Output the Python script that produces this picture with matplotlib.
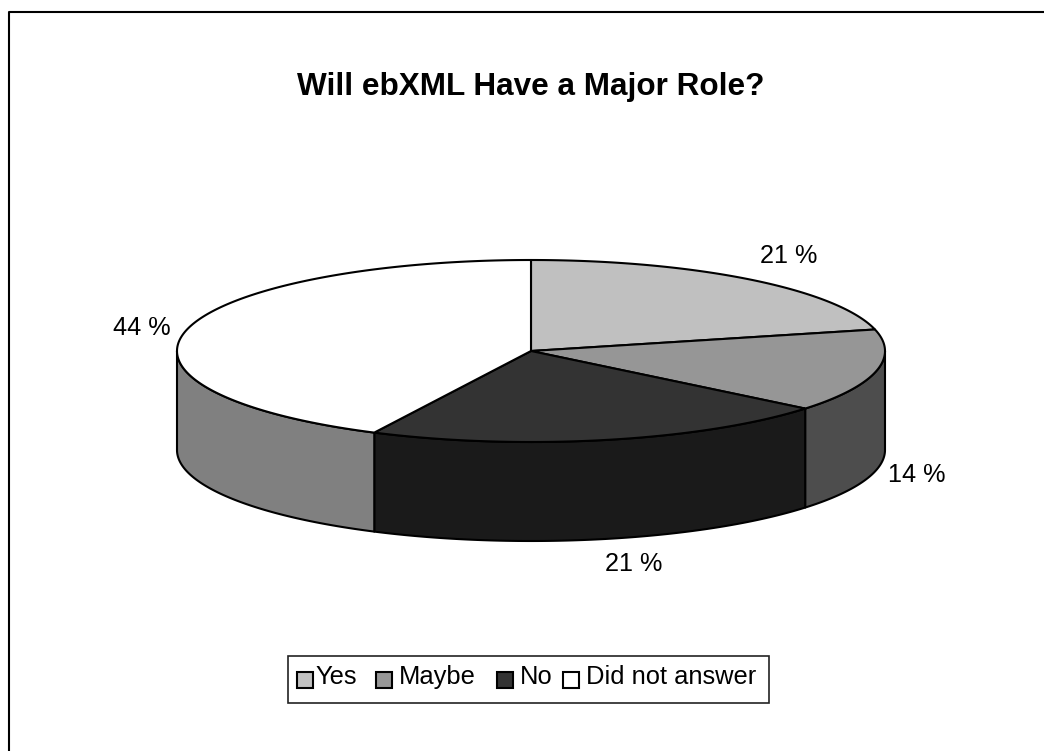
import numpy as np

import matplotlib
matplotlib.use('Agg')
import matplotlib.pyplot as plt
from matplotlib.patches import Polygon, Rectangle

plt.rcParams['font.family'] = ['Liberation Sans', 'DejaVu Sans']

categories = ['Yes', 'Maybe', 'No', 'Did not answer']
# slice sizes as measured on the drawn pie, the printed labels round differently
shares = [21.2, 14.7, 21.4, 42.7]
pct_labels = ['21 %', '14 %', '21 %', '44 %']
top_colors = ['#C0C0C0', '#969696', '#333333', '#FFFFFF']
side_colors = ['#606060', '#4D4D4D', '#1A1A1A', '#808080']
label_pos = [(789, 256), (917, 475), (634, 564), (142, 328)]

cx, cy = 531, 351
rx, ry = 354, 91
depth = 99


def rim(t):
    return cx + rx * np.sin(t), cy - ry * np.cos(t)


fig = plt.figure(figsize=(10.44, 7.51), dpi=100)
ax = fig.add_axes([0, 0, 1, 1])
ax.set_xlim(0, 1044)
ax.set_ylim(751, 0)
ax.axis('off')

# the chart frame runs off the right and bottom of the picture
ax.plot([8.5, 8.5, 1044], [751, 12, 12], color='black', lw=1.5)

edges = np.radians(np.cumsum([0] + shares) / sum(shares) * 360)

# side walls first, only the front half of the rim shows
for i in range(len(shares)):
    lo = max(edges[i], np.pi / 2)
    hi = min(edges[i + 1], 3 * np.pi / 2)
    if lo >= hi:
        continue
    t = np.linspace(lo, hi, 150)
    x, y = rim(t)
    pts = np.r_[np.c_[x, y], np.c_[x[::-1], y[::-1] + depth]]
    ax.add_patch(Polygon(pts, closed=True, fc=side_colors[i], ec='black', lw=1.5, joinstyle='round', zorder=2))

# top of the pie
for i in range(len(shares)):
    t = np.linspace(edges[i], edges[i + 1], 200)
    x, y = rim(t)
    pts = np.r_[[[cx, cy]], np.c_[x, y]]
    ax.add_patch(Polygon(pts, closed=True, fc=top_colors[i], ec='black', lw=1.5, joinstyle='round', zorder=3))

ax.text(531, 87, 'Will ebXML Have a Major Role?', ha='center', va='center', fontsize=22.7, fontweight='bold')

for lab, (px, py) in zip(pct_labels, label_pos):
    ax.text(px, py, lab, ha='center', va='center', fontsize=18.2)

# legend drawn by hand to hold the uneven spacing of the original
swatch_x = [297, 376, 497, 563]
text_x = [316, 399, 520, 586]
ax.add_patch(Rectangle((288, 656), 481, 47, fc='white', ec='#222222', lw=1.2))
for i, name in enumerate(categories):
    ax.add_patch(Rectangle((swatch_x[i], 672), 16, 16, fc=top_colors[i], ec='black', lw=1.5))
    ax.text(text_x[i], 677, name, ha='left', va='center', fontsize=18.4)

plt.savefig('out.png', dpi=100)
